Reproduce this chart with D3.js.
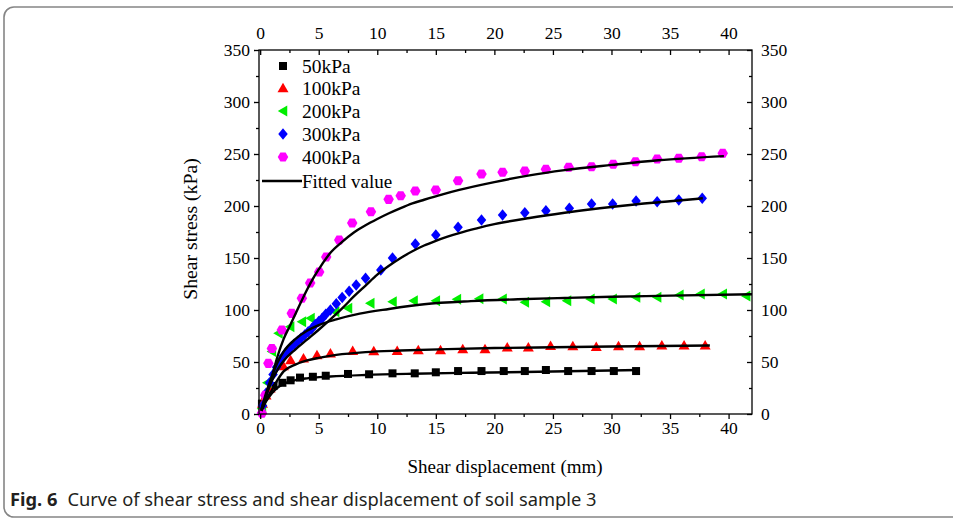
<!DOCTYPE html>
<html><head><meta charset="utf-8">
<script src="https://cdn.jsdelivr.net/npm/d3@7"></script>
<style>body{margin:0;background:#fff;}svg{display:block;}</style>
</head><body>
<svg id="c" width="953" height="518"></svg>
<script>
// ---- data ----
const seriesNames = ["50kPa","100kPa","200kPa","300kPa","400kPa"];
const seriesColors = ["#000000","#ff0000","#00ee00","#0000ff","#ff00ff"];
const seriesShapes = ["square","triangleUp","triangleLeft","diamond","hexagon"];

const data50 = [[0.15,10],[1.14,27],[1.9,30],[2.6,32.4],[3.4,35],[4.5,35.8],[5.6,36.8],[7.5,38.5],[9.3,38.2],[11.3,39.1],[13.2,39.1],[15.0,40.1],[16.9,41.3],[18.9,41.3],[20.8,41.3],[22.6,41.3],[24.4,42.3],[26.3,41.3],[28.3,41.3],[30.2,41.3],[32.1,41.3]];
const data100 = [[0.2,10],[0.5,18],[0.85,24.7],[1.99,46.2],[2.6,51.9],[3.7,53.6],[4.85,56.7],[6.0,58.4],[7.9,60.9],[9.7,60.6],[11.7,60.9],[13.5,61.5],[15.4,61.5],[17.3,62.5],[19.2,62.5],[21.1,64.1],[22.9,64.1],[24.8,65.7],[26.7,65.4],[28.7,64.7],[30.6,65.4],[32.4,65.4],[34.3,66],[36.2,66],[38.0,66]];
const data200 = [[0.15,5],[0.6,30],[1.0,60],[1.56,77.6],[2.56,84],[3.56,88.8],[4.3,92],[6.4,98.4],[7.5,101.6],[9.4,106.4],[11.3,108],[13.1,109],[15.0,109],[16.8,110.3],[18.7,110.9],[20.7,110.6],[22.6,107.4],[24.4,108],[26.2,109],[28.2,110.6],[30.1,110.6],[32.1,112.2],[33.9,112.2],[35.8,114.4],[37.6,115.4],[39.5,115.4],[41.5,113.5]];
const data300 = [[0.2,8],[0.5,20],[0.8,30],[1.1,38],[1.4,45],[1.7,51],[2.0,56],[2.3,60],[2.6,64],[2.9,67],[3.2,70],[3.5,73],[3.8,76],[4.1,79],[4.4,82],[4.7,86],[5.0,89],[5.3,92],[5.6,96],[6.0,100],[6.5,106],[7.0,112],[7.6,118],[8.2,124],[9.0,130.5],[10.3,138.5],[11.3,150],[13.25,163.5],[15.0,172.1],[16.9,179.5],[18.9,186.5],[20.7,191.3],[22.6,193.6],[24.4,195.5],[26.4,197.8],[28.3,201.9],[30.1,201.9],[32.1,204.8],[33.9,204.1],[35.75,205.8],[37.75,207.4]];
const data400 = [[0.15,0.7],[0.43,18],[0.7,48.7],[1.0,63],[1.85,80.8],[2.7,96.8],[3.56,111.3],[4.27,126],[5.04,136.5],[5.64,151],[6.75,167.3],[7.86,183.7],[9.46,194.5],[10.97,206.4],[12.0,209.9],[13.25,214.4],[15.0,215.4],[16.9,224.3],[18.9,230.8],[20.7,232.4],[22.6,233.7],[24.4,235.3],[26.35,237.2],[28.3,237.8],[30.15,240.1],[32.05,242.6],[33.9,245.2],[35.75,245.9],[37.7,247.4],[39.5,250.7]];

const fit50 = [[0.1,3],[0.5,12],[1,20],[1.5,25.5],[2,29],[3,32.5],[4,34.3],[6,36],[9,37.5],[13,38.7],[18,39.7],[25,40.8],[32.3,42.3]];
const fit100 = [[0.1,3],[0.5,13],[1,23],[1.5,33],[2,41],[3,47.5],[4,51.5],[5,54],[6.5,56.8],[9,59.5],[12,61],[16,62.4],[20,63.4],[25,64.2],[30,64.9],[38.4,65.8]];
const fit200 = [[0.1,4],[0.5,20],[1,36],[1.5,50],[2,60],[3,72],[4,80],[5,85.5],[6.5,91],[8.5,96.5],[11,101],[14,105.5],[18,108.5],[22,110.3],[26,111.6],[30,112.7],[35,113.8],[42,115.1]];
const fit300 = [[0.1,4],[0.5,18],[1,32],[1.5,43],[2,51],[3,62],[4,71.5],[5,81],[6,91],[7,101.5],[8,113],[9,123.5],[10,134],[11,142.5],[12,150],[13,156.5],[14,162],[15,166.5],[16,170.5],[17,174],[18.5,178.5],[20,182.5],[23,188.5],[26,193.5],[29,197.8],[32,201.5],[35,204.5],[37.8,207.4]];
const fit400 = [[0.1,3],[0.5,16],[1,36],[1.5,56],[2,72],[2.5,84],[3,96],[3.5,108],[4,119.5],[4.5,130],[5,139],[5.5,147.5],[6,155],[7,165.5],[8,174.5],[9,181.5],[10,187.5],[11,193],[12,198],[13,202.5],[14,206],[15.5,211],[17,215.5],[20,223],[23,229.5],[26,234.5],[30,239.5],[34,244],[39.6,248]];

const xTicks = [0,5,10,15,20,25,30,35,40];
const yTicks = [0,50,100,150,200,250,300,350];
const xMinor = [2.5,7.5,12.5,17.5,22.5,27.5,32.5,37.5];
const yMinor = [25,75,125,175,225,275,325];

const allData = [data50,data100,data200,data300,data400];
const allFits = [fit50,fit100,fit200,fit300,fit400];

// ---- chart ----
const svg = d3.select("#c");
const L=259, R=752, T=50, B=414;
const x = d3.scaleLinear().domain([-0.1,42]).range([L,R]);
const y = d3.scaleLinear().domain([0,350]).range([B,T]);
const serif = "'Liberation Serif','Times New Roman',serif";

// frame
svg.append("rect").attr("x",4).attr("y",7).attr("width",1000).attr("height",510).attr("rx",10)
  .attr("fill","none").attr("stroke","#858585").attr("stroke-width",1.6);

function shapePath(s, size){
  const h=size/2;
  switch(s){
    case "square": return `M${-h},${-h}H${h}V${h}H${-h}Z`;
    case "triangleUp": return `M0,${-h*1.05}L${h*1.1},${h*0.85}L${-h*1.1},${h*0.85}Z`;
    case "triangleLeft": return `M${-h*1.05},0L${h*0.85},${-h*1.1}L${h*0.85},${h*1.1}Z`;
    case "diamond": return `M0,${-h*1.15}L${h*0.95},0L0,${h*1.15}L${-h*0.95},0Z`;
    case "hexagon": {
      let p=""; for(let i=0;i<6;i++){const a=Math.PI/3*i; p+=(i?"L":"M")+(h*Math.cos(a)).toFixed(2)+","+(h*Math.sin(a)).toFixed(2);} return p+"Z";
    }
  }
}
const sizes=[8,10,10,10,10.5];

const plot = svg.append("g");
allData.forEach((d,i)=>{
  plot.append("g").selectAll("path").data(d).join("path")
    .attr("d",shapePath(seriesShapes[i],sizes[i]))
    .attr("transform",p=>`translate(${x(p[0])},${y(p[1])})`)
    .attr("fill",seriesColors[i]);
});
const line = d3.line().x(p=>x(p[0])).y(p=>y(p[1])).curve(d3.curveMonotoneX);
allFits.forEach(f=>{
  plot.append("path").attr("d",line(f)).attr("fill","none").attr("stroke","#000").attr("stroke-width",2.4);
});

// axes
function styleAxis(g){
  g.selectAll(".domain").remove();
  g.selectAll("line").attr("stroke","#000").attr("stroke-width",1.3);
  g.selectAll("text").attr("font-family",serif).attr("font-size","17.5px").attr("fill","#000");
}
const axB = svg.append("g").attr("transform",`translate(0,${B})`).call(d3.axisBottom(x).tickValues(xTicks).tickSize(5).tickPadding(3).tickFormat(d3.format("d")));
styleAxis(axB);
svg.append("g").attr("transform",`translate(0,${B})`).call(d3.axisBottom(x).tickValues(xMinor).tickSize(3).tickFormat("")).call(styleAxis);
const axT = svg.append("g").attr("transform",`translate(0,${T})`).call(d3.axisTop(x).tickValues(xTicks).tickSizeInner(-5).tickSizeOuter(0).tickPadding(11).tickFormat(d3.format("d")));
styleAxis(axT);
svg.append("g").attr("transform",`translate(0,${T})`).call(d3.axisTop(x).tickValues(xMinor).tickSizeInner(-3).tickSizeOuter(0).tickFormat("")).call(styleAxis);
const axL = svg.append("g").attr("transform",`translate(${L},0)`).call(d3.axisLeft(y).tickValues(yTicks).tickSize(5).tickPadding(4).tickFormat(d3.format("d")));
styleAxis(axL);
svg.append("g").attr("transform",`translate(${L},0)`).call(d3.axisLeft(y).tickValues(yMinor).tickSize(3).tickFormat("")).call(styleAxis);
const axR = svg.append("g").attr("transform",`translate(${R},0)`).call(d3.axisRight(y).tickValues(yTicks).tickSizeInner(-5).tickSizeOuter(0).tickPadding(9).tickFormat(d3.format("d")));
styleAxis(axR);
svg.append("g").attr("transform",`translate(${R},0)`).call(d3.axisRight(y).tickValues(yMinor).tickSizeInner(-3).tickSizeOuter(0).tickFormat("")).call(styleAxis);

svg.append("rect").attr("x",L).attr("y",T).attr("width",R-L).attr("height",B-T)
  .attr("fill","none").attr("stroke","#000").attr("stroke-width",1.3);

// axis titles
svg.append("text").attr("x",505).attr("y",473).attr("text-anchor","middle")
  .attr("font-family",serif).attr("font-size","19px").text("Shear displacement (mm)");
svg.append("text").attr("transform","translate(197,229) rotate(-90)").attr("text-anchor","middle")
  .attr("font-family",serif).attr("font-size","19.8px").text("Shear stress (kPa)");

// legend
const legY=[66,88,111,134,157];
seriesNames.forEach((n,i)=>{
  svg.append("path").attr("d",shapePath(seriesShapes[i],sizes[i])).attr("transform",`translate(283,${legY[i]})`).attr("fill",seriesColors[i]);
  svg.append("text").attr("x",302).attr("y",legY[i]+6.5).attr("font-family",serif).attr("font-size","19.5px").text(n);
});
svg.append("line").attr("x1",262).attr("x2",302).attr("y1",181).attr("y2",181).attr("stroke","#000").attr("stroke-width",2.4);
svg.append("text").attr("x",302).attr("y",187.5).attr("font-family",serif).attr("font-size","19px").text("Fitted value");

// caption
const cap = svg.append("text").attr("x",10).attr("y",506).attr("font-family","'Noto Sans','Open Sans',sans-serif").attr("font-size","18.3px").attr("fill","#231f20");
cap.append("tspan").attr("font-weight","bold").text("Fig. 6");
cap.append("tspan").attr("dx",10).text("Curve of shear stress and shear displacement of soil sample 3");
</script>
</body></html>
